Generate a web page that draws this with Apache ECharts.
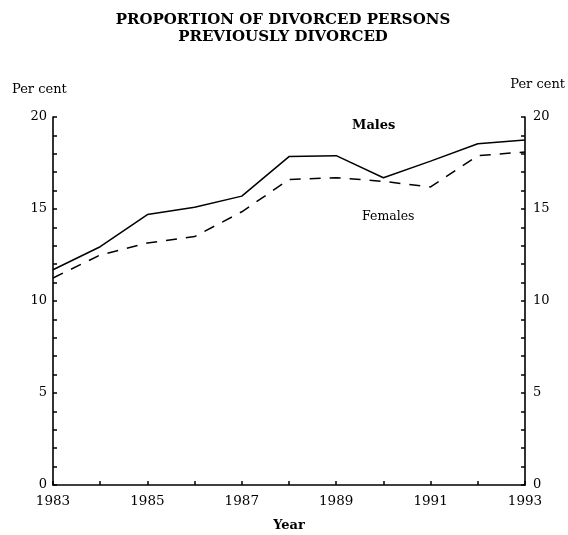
<!DOCTYPE html>
<html>
<head>
<meta charset="utf-8">
<script src="https://cdn.jsdelivr.net/npm/echarts@6/dist/echarts.min.js"></script>
<style>
  html, body { margin: 0; padding: 0; background: #fff; }
  #chart { width: 568px; height: 535px; }
</style>
</head>
<body>
<div id="chart"></div>
<script>
const years = [1983, 1984, 1985, 1986, 1987, 1988, 1989, 1990, 1991, 1992, 1993]
const males = [11.7, 12.95, 14.7, 15.1, 15.7, 17.85, 17.9, 16.7, 17.6, 18.55, 18.75]
const females = [11.25, 12.5, 13.15, 13.5, 14.85, 16.6, 16.7, 16.5, 16.2, 17.9, 18.1]
const yLabels = [0, 5, 10, 15, 20]

const serif = '"DejaVu Serif", "Liberation Serif", serif'
const ink = '#000'

const chart = echarts.init(document.getElementById('chart'))

function yAxis(pos) {
  return {
    type: 'value',
    position: pos,
    min: 0,
    max: 20,
    interval: 1,
    axisLine: { show: true, lineStyle: { color: ink, width: 1.6 } },
    axisTick: { show: true, inside: true, length: 4, lineStyle: { color: ink, width: 1.5 } },
    axisLabel: {
      color: ink,
      fontFamily: serif,
      fontSize: 13,
      margin: pos === 'left' ? 6 : 8,
      formatter: v => (yLabels.includes(v) ? String(v) : ''),
    },
    splitLine: { show: false },
  }
}

chart.setOption({
  backgroundColor: '#fff',
  animation: false,
  grid: { left: 53, right: 43, top: 117, bottom: 50, outerBoundsMode: 'none' },
  title: [
    {
      text: 'PROPORTION OF DIVORCED PERSONS\nPREVIOUSLY DIVORCED',
      left: 278,
      top: 7,
      textAlign: 'center',
      textStyle: { fontFamily: serif, fontSize: 15, fontWeight: 'bold', color: ink, lineHeight: 17, align: 'center' },
    },
  ],
  graphic: [
    { type: 'text', left: 12, top: 83, style: { text: 'Per cent', font: '13px ' + serif, fill: ink } },
    { type: 'text', right: 3, top: 78, style: { text: 'Per cent', font: '13px ' + serif, fill: ink } },
    { type: 'text', left: 352, top: 119, style: { text: 'Males', font: 'bold 13px ' + serif, fill: ink } },
    { type: 'text', left: 362, top: 210, style: { text: 'Females', font: '12.5px ' + serif, fill: ink } },
  ],
  xAxis: {
    type: 'value',
    min: 1983,
    max: 1993,
    interval: 1,
    name: 'Year',
    nameLocation: 'middle',
    nameGap: 34,
    nameTextStyle: { fontFamily: serif, fontSize: 13, fontWeight: 'bold', color: ink },
    axisLine: { lineStyle: { color: ink, width: 1.6 } },
    axisTick: { inside: true, length: 4, lineStyle: { color: ink, width: 1.5 } },
    axisLabel: {
      color: ink,
      fontFamily: serif,
      fontSize: 13.5,
      margin: 9,
      formatter: v => (v % 2 === 1 ? String(v) : ''),
    },
    splitLine: { show: false },
  },
  yAxis: [yAxis('left'), yAxis('right')],
  series: [
    {
      name: 'Males',
      type: 'line',
      data: years.map((y, i) => [y, males[i]]),
      symbol: 'none',
      lineStyle: { color: ink, width: 1.5 },
    },
    {
      name: 'Females',
      type: 'line',
      data: years.map((y, i) => [y, females[i]]),
      symbol: 'none',
      lineStyle: { color: ink, width: 1.5, type: [11, 9] },
    },
  ],
})
</script>
</body>
</html>
